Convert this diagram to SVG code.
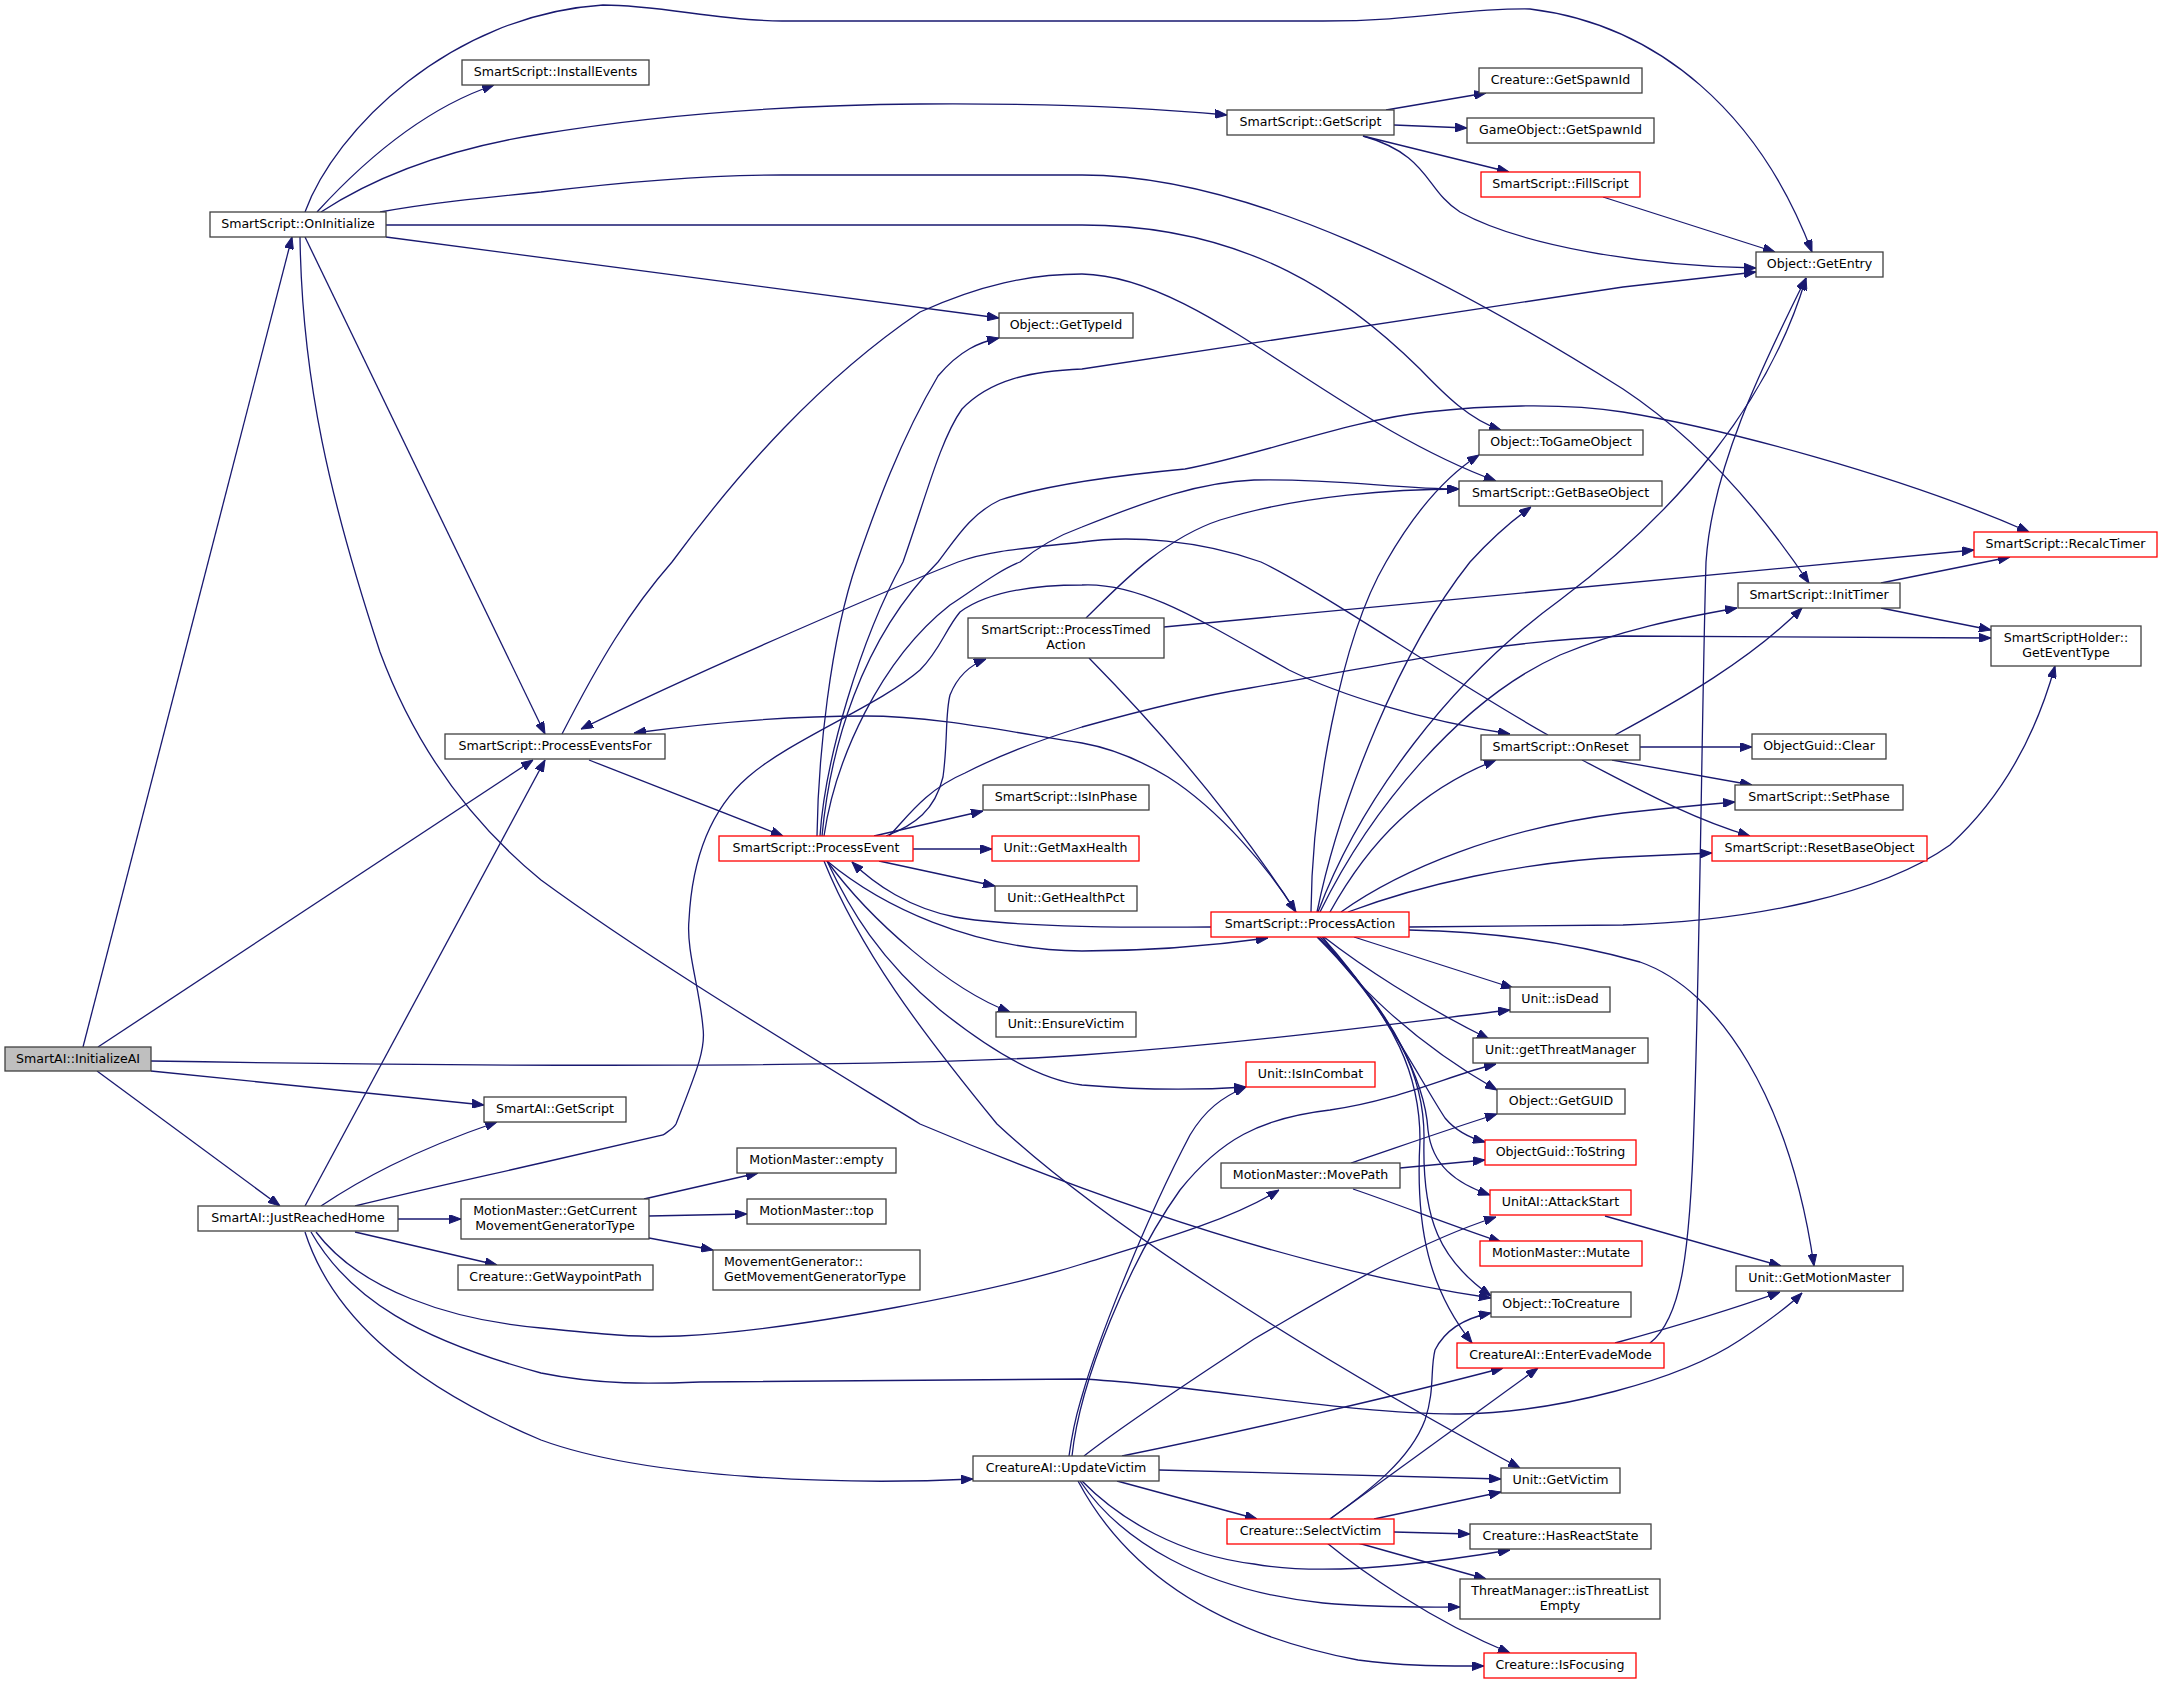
<svg xmlns="http://www.w3.org/2000/svg" width="2163" height="1685" viewBox="0 0 2163 1685">
<defs>
<marker id="a" viewBox="0 0 12 9" refX="12" refY="4.5" markerWidth="12" markerHeight="9" markerUnits="userSpaceOnUse" orient="auto"><path d="M0,0 L12,4.5 L0,9 z" fill="#191970" stroke="#191970" stroke-width="1"/></marker>
</defs>
<style>
.n rect{fill:#fff;stroke:#404040;stroke-width:1.3}
.r rect{fill:#fff;stroke:#ff0000;stroke-width:1.3}
.g rect{fill:#bfbfbf;stroke:#404040;stroke-width:1.3}
text{font-family:"DejaVu Sans","Liberation Sans",sans-serif;font-size:12.6px;fill:#000;text-anchor:middle}
text.l{text-anchor:start}
.e path{fill:none;stroke:#191970;stroke-width:1.3;marker-end:url(#a)}
</style>
<rect width="2163" height="1685" fill="#fff"/>
<g id="edges" class="e">
<path d="M83,1047 L292,237"/>
<path d="M98,1047 L533,760"/>
<path d="M151,1061 C500,1067 900,1068 1082,1055 C1250,1043 1400,1023 1510,1010"/>
<path d="M151,1071 L484,1105"/>
<path d="M97,1071 L280,1206"/>
<path d="M305,212 C335,130 450,15 603,5 C660,5 720,21 782,21 L1323,21 C1420,21 1460,8 1530,9 C1660,25 1760,115 1812,252"/>
<path d="M317,212 C360,165 420,110 494,85"/>
<path d="M321,212 C370,180 440,150 541,134 C650,116 780,105 920,104 C1050,103 1150,108 1227,115"/>
<path d="M380,212 C430,203 480,198 541,192 C640,180 720,175 782,175 L1082,175 C1250,175 1450,280 1623,389 C1700,440 1760,510 1809,583"/>
<path d="M386,225 L1082,225 C1250,225 1350,300 1420,369 C1445,395 1470,420 1501,430"/>
<path d="M386,237 L999,318"/>
<path d="M305,237 L545,734"/>
<path d="M300,237 C302,380 330,500 380,652 C420,760 480,830 541,880 C650,960 800,1050 920,1124 C1100,1200 1300,1270 1491,1298"/>
<path d="M1386,110 L1486,93"/>
<path d="M1394,125 L1467,128"/>
<path d="M1363,136 L1509,172"/>
<path d="M1363,136 C1430,155 1425,190 1460,212 C1520,245 1640,266 1756,268"/>
<path d="M1603,197 L1775,252"/>
<path d="M589,760 L783,836"/>
<path d="M562,734 C600,660 630,610 672,562 C740,470 820,380 920,312 C980,285 1030,274 1082,274 C1200,276 1330,420 1496,481"/>
<path d="M817,836 C818,760 830,640 857,562 C875,510 900,440 938,376 C960,350 980,342 999,338"/>
<path d="M820,836 C825,760 860,640 903,562 C925,500 940,440 962,409 C990,380 1030,371 1082,369 L1623,287 L1756,272"/>
<path d="M822,836 C830,750 860,640 938,562 C955,540 970,514 1000,500 C1040,487 1100,477 1185,469 C1260,455 1350,420 1427,412 C1480,406 1560,402 1623,412 C1720,428 1900,475 2029,532"/>
<path d="M824,836 C835,760 880,660 950,605 C980,585 1000,570 1020,562 C1040,545 1060,535 1082,527 C1150,500 1200,482 1254,480 C1330,478 1400,489 1459,489"/>
<path d="M886,836 C915,825 935,810 943,777 C948,740 945,715 950,695 C958,675 970,665 986,659"/>
<path d="M889,836 C905,820 925,790 965,773 C1000,755 1040,740 1082,727 C1150,708 1200,696 1250,688 C1400,662 1500,641 1623,636 L1991,638"/>
<path d="M874,836 L983,811"/>
<path d="M913,849 L992,849"/>
<path d="M879,861 L995,886"/>
<path d="M827,861 C880,905 970,950 1082,951 C1150,951 1210,946 1268,938"/>
<path d="M1211,927 C1100,928 1000,925 955,917 C910,908 875,885 852,862"/>
<path d="M827,861 C870,920 950,990 1010,1012"/>
<path d="M827,861 C850,910 880,960 940,1010 C990,1050 1040,1080 1082,1085 C1140,1090 1200,1090 1246,1087"/>
<path d="M824,861 C860,950 920,1030 997,1124 C1100,1220 1300,1350 1520,1468"/>
<path d="M1089,658 C1150,720 1230,810 1296,912"/>
<path d="M1086,618 C1115,590 1160,540 1220,520 C1300,495 1400,489 1459,489"/>
<path d="M1164,627 L1974,550"/>
<path d="M1296,912 C1270,870 1220,810 1168,777 C1140,760 1110,748 1082,743 C1000,730 930,716 865,716 C780,716 700,724 634,733"/>
<path d="M1311,912 C1312,800 1340,640 1386,562 C1410,520 1440,480 1479,455"/>
<path d="M1317,912 C1340,800 1400,650 1470,562 C1490,540 1510,522 1531,507"/>
<path d="M1318,912 C1360,800 1450,680 1560,600 C1680,510 1770,400 1806,278"/>
<path d="M1320,912 C1370,810 1460,700 1560,655 C1620,630 1680,618 1737,608"/>
<path d="M1330,912 C1370,840 1420,790 1496,760"/>
<path d="M1341,912 C1400,870 1500,828 1623,813 C1660,809 1700,805 1735,802"/>
<path d="M1348,912 C1420,885 1520,862 1623,857 L1712,853"/>
<path d="M1409,927 L1623,925 C1750,921 1880,895 1950,845 C2010,790 2040,720 2055,666"/>
<path d="M1409,930 C1500,932 1580,945 1640,962 C1720,990 1790,1100 1814,1266"/>
<path d="M1354,937 L1513,988"/>
<path d="M1324,937 C1360,965 1420,1005 1489,1039"/>
<path d="M1323,937 C1350,980 1410,1040 1497,1090"/>
<path d="M1322,937 C1380,1000 1420,1080 1445,1118 C1455,1130 1470,1138 1485,1142"/>
<path d="M1320,937 C1390,1010 1425,1080 1428,1130 C1432,1165 1455,1183 1490,1195"/>
<path d="M1318,937 C1400,1020 1425,1080 1424,1140 C1422,1220 1440,1260 1491,1296"/>
<path d="M1317,937 C1400,1020 1420,1080 1420,1140 C1415,1230 1430,1290 1472,1343"/>
<path d="M1548,735 C1450,680 1320,590 1261,562 C1200,540 1130,535 1082,542 C1030,548 990,550 958,562 C900,585 700,670 581,729"/>
<path d="M1615,735 C1680,700 1750,660 1802,608"/>
<path d="M1640,747 L1752,747"/>
<path d="M1612,760 L1752,785"/>
<path d="M1582,760 C1640,790 1690,818 1750,836"/>
<path d="M1881,583 L2010,557"/>
<path d="M1881,608 L1991,630"/>
<path d="M321,1206 C360,1180 410,1152 497,1122"/>
<path d="M305,1206 L545,760"/>
<path d="M355,1206 C420,1190 480,1177 541,1163 L663,1135 C670,1130 674,1128 676,1124 C695,1075 706,1050 703,1028 C700,990 686,950 689,920 C692,860 710,810 748,777 C790,740 880,705 920,670 C940,650 945,630 960,612 C990,590 1040,585 1082,585 C1140,582 1200,620 1289,670 C1340,695 1420,720 1510,734"/>
<path d="M398,1219 L461,1219"/>
<path d="M355,1232 L497,1265"/>
<path d="M316,1232 C360,1290 450,1320 541,1328 C600,1334 640,1338 680,1336 C800,1330 1000,1290 1082,1264 C1160,1240 1230,1220 1279,1190"/>
<path d="M311,1232 C350,1300 420,1340 541,1373 C600,1385 650,1384 700,1382 L1082,1379 C1200,1385 1350,1415 1460,1414 C1560,1412 1680,1380 1740,1340 C1770,1320 1790,1305 1802,1293"/>
<path d="M305,1232 C330,1310 400,1380 541,1440 C650,1480 850,1485 973,1479"/>
<path d="M644,1199 L758,1173"/>
<path d="M649,1216 L747,1214"/>
<path d="M649,1238 L713,1250"/>
<path d="M1069,1456 C1074,1420 1078,1410 1082,1396 C1095,1350 1140,1230 1190,1135 C1205,1110 1222,1097 1246,1087"/>
<path d="M1072,1456 C1080,1380 1130,1260 1180,1190 C1220,1140 1260,1118 1330,1110 C1400,1100 1450,1075 1496,1064"/>
<path d="M1084,1456 C1130,1420 1200,1375 1254,1339 C1330,1295 1410,1245 1496,1217"/>
<path d="M1122,1456 C1250,1430 1400,1395 1503,1368"/>
<path d="M1159,1470 L1501,1479"/>
<path d="M1117,1481 L1257,1519"/>
<path d="M1082,1481 C1120,1520 1180,1555 1254,1564 C1300,1572 1350,1570 1400,1565 C1440,1561 1480,1555 1510,1550"/>
<path d="M1080,1481 C1120,1540 1200,1590 1323,1603 C1380,1608 1420,1607 1460,1607"/>
<path d="M1078,1481 C1120,1560 1200,1630 1358,1660 C1400,1666 1440,1666 1484,1666"/>
<path d="M1330,1519 C1370,1490 1410,1460 1425,1420 C1435,1390 1430,1370 1435,1350 C1445,1330 1465,1318 1491,1313"/>
<path d="M1330,1519 L1538,1368"/>
<path d="M1374,1519 L1501,1492"/>
<path d="M1394,1532 L1470,1534"/>
<path d="M1358,1543 L1486,1579"/>
<path d="M1327,1543 C1360,1570 1430,1620 1510,1653"/>
<path d="M1351,1163 C1390,1150 1440,1132 1497,1114"/>
<path d="M1400,1168 L1485,1160"/>
<path d="M1353,1189 C1400,1205 1450,1225 1501,1242"/>
<path d="M1605,1216 L1781,1266"/>
<path d="M1615,1343 C1680,1325 1730,1310 1780,1292"/>
<path d="M1650,1343 C1680,1320 1690,1260 1694,1124 C1700,950 1702,700 1706,562 C1712,470 1760,370 1806,278"/>
</g>
<g id="n1" class="g"><rect x="5" y="1047" width="146" height="24"/><text x="78" y="1063">SmartAI::InitializeAI</text></g>
<g id="n2" class="n"><rect x="210" y="212" width="176" height="25"/><text x="298" y="228">SmartScript::OnInitialize</text></g>
<g id="n3" class="n"><rect x="462" y="60" width="187" height="25"/><text x="555.5" y="76">SmartScript::InstallEvents</text></g>
<g id="n4" class="n"><rect x="1227" y="110" width="167" height="25"/><text x="1310.5" y="126">SmartScript::GetScript</text></g>
<g id="n5" class="n"><rect x="1479" y="68" width="163" height="25"/><text x="1560.5" y="84">Creature::GetSpawnId</text></g>
<g id="n6" class="n"><rect x="1467" y="118" width="187" height="25"/><text x="1560.5" y="134">GameObject::GetSpawnId</text></g>
<g id="n7" class="r"><rect x="1481" y="172" width="159" height="25"/><text x="1560.5" y="188">SmartScript::FillScript</text></g>
<g id="n8" class="n"><rect x="1756" y="252" width="127" height="25"/><text x="1819.5" y="268">Object::GetEntry</text></g>
<g id="n9" class="n"><rect x="999" y="313" width="134" height="25"/><text x="1066" y="329">Object::GetTypeId</text></g>
<g id="n10" class="n"><rect x="1479" y="430" width="164" height="25"/><text x="1561" y="446">Object::ToGameObject</text></g>
<g id="n11" class="n"><rect x="1459" y="481" width="203" height="25"/><text x="1560.5" y="497">SmartScript::GetBaseObject</text></g>
<g id="n12" class="r"><rect x="1974" y="532" width="183" height="25"/><text x="2065.5" y="548">SmartScript::RecalcTimer</text></g>
<g id="n13" class="n"><rect x="1738" y="583" width="162" height="25"/><text x="1819" y="599">SmartScript::InitTimer</text></g>
<g id="n14" class="n"><rect x="1991" y="626" width="150" height="40"/><text x="2066" y="641.5">SmartScriptHolder::</text><text x="2066" y="656.5">GetEventType</text></g>
<g id="n15" class="n"><rect x="968" y="618" width="196" height="40"/><text x="1066" y="633.5">SmartScript::ProcessTimed</text><text x="1066" y="648.5">Action</text></g>
<g id="n16" class="n"><rect x="445" y="734" width="220" height="25"/><text x="555" y="750">SmartScript::ProcessEventsFor</text></g>
<g id="n17" class="n"><rect x="1481" y="735" width="159" height="25"/><text x="1560.5" y="751">SmartScript::OnReset</text></g>
<g id="n18" class="n"><rect x="1752" y="734" width="134" height="25"/><text x="1819" y="750">ObjectGuid::Clear</text></g>
<g id="n19" class="n"><rect x="983" y="785" width="166" height="25"/><text x="1066" y="801">SmartScript::IsInPhase</text></g>
<g id="n20" class="n"><rect x="1735" y="785" width="168" height="25"/><text x="1819" y="801">SmartScript::SetPhase</text></g>
<g id="n21" class="r"><rect x="719" y="836" width="194" height="25"/><text x="816" y="852">SmartScript::ProcessEvent</text></g>
<g id="n22" class="r"><rect x="992" y="836" width="147" height="25"/><text x="1065.5" y="852">Unit::GetMaxHealth</text></g>
<g id="n23" class="r"><rect x="1712" y="836" width="215" height="25"/><text x="1819.5" y="852">SmartScript::ResetBaseObject</text></g>
<g id="n24" class="n"><rect x="995" y="886" width="142" height="25"/><text x="1066" y="902">Unit::GetHealthPct</text></g>
<g id="n25" class="r"><rect x="1211" y="912" width="198" height="25"/><text x="1310" y="928">SmartScript::ProcessAction</text></g>
<g id="n26" class="n"><rect x="1510" y="987" width="100" height="25"/><text x="1560" y="1003">Unit::isDead</text></g>
<g id="n27" class="n"><rect x="996" y="1012" width="140" height="25"/><text x="1066" y="1028">Unit::EnsureVictim</text></g>
<g id="n28" class="n"><rect x="1473" y="1038" width="175" height="25"/><text x="1560.5" y="1054">Unit::getThreatManager</text></g>
<g id="n29" class="r"><rect x="1246" y="1062" width="129" height="25"/><text x="1310.5" y="1078">Unit::IsInCombat</text></g>
<g id="n30" class="n"><rect x="1497" y="1089" width="128" height="25"/><text x="1561" y="1105">Object::GetGUID</text></g>
<g id="n31" class="n"><rect x="484" y="1097" width="142" height="25"/><text x="555" y="1113">SmartAI::GetScript</text></g>
<g id="n32" class="r"><rect x="1485" y="1140" width="151" height="25"/><text x="1560.5" y="1156">ObjectGuid::ToString</text></g>
<g id="n33" class="n"><rect x="737" y="1148" width="159" height="25"/><text x="816.5" y="1164">MotionMaster::empty</text></g>
<g id="n34" class="n"><rect x="1221" y="1163" width="179" height="25"/><text x="1310.5" y="1179">MotionMaster::MovePath</text></g>
<g id="n35" class="r"><rect x="1490" y="1190" width="141" height="25"/><text x="1560.5" y="1206">UnitAI::AttackStart</text></g>
<g id="n36" class="n"><rect x="461" y="1199" width="188" height="40"/><text x="555" y="1214.5">MotionMaster::GetCurrent</text><text x="555" y="1229.5">MovementGeneratorType</text></g>
<g id="n37" class="n"><rect x="747" y="1199" width="139" height="25"/><text x="816.5" y="1215">MotionMaster::top</text></g>
<g id="n38" class="n"><rect x="198" y="1206" width="200" height="25"/><text x="298" y="1222">SmartAI::JustReachedHome</text></g>
<g id="n39" class="r"><rect x="1480" y="1241" width="162" height="25"/><text x="1561" y="1257">MotionMaster::Mutate</text></g>
<g id="n40" class="n"><rect x="713" y="1250" width="207" height="40"/><text class="l" x="724" y="1265.5">MovementGenerator::</text><text class="l" x="724" y="1280.5">GetMovementGeneratorType</text></g>
<g id="n41" class="n"><rect x="1736" y="1266" width="167" height="25"/><text x="1819.5" y="1282">Unit::GetMotionMaster</text></g>
<g id="n42" class="n"><rect x="458" y="1265" width="195" height="25"/><text x="555.5" y="1281">Creature::GetWaypointPath</text></g>
<g id="n43" class="n"><rect x="1491" y="1292" width="140" height="25"/><text x="1561" y="1308">Object::ToCreature</text></g>
<g id="n44" class="r"><rect x="1457" y="1343" width="207" height="25"/><text x="1560.5" y="1359">CreatureAI::EnterEvadeMode</text></g>
<g id="n45" class="n"><rect x="973" y="1456" width="186" height="25"/><text x="1066" y="1472">CreatureAI::UpdateVictim</text></g>
<g id="n46" class="n"><rect x="1501" y="1468" width="119" height="25"/><text x="1560.5" y="1484">Unit::GetVictim</text></g>
<g id="n47" class="r"><rect x="1227" y="1519" width="167" height="25"/><text x="1310.5" y="1535">Creature::SelectVictim</text></g>
<g id="n48" class="n"><rect x="1470" y="1524" width="181" height="25"/><text x="1560.5" y="1540">Creature::HasReactState</text></g>
<g id="n49" class="n"><rect x="1460" y="1579" width="200" height="40"/><text x="1560" y="1594.5">ThreatManager::isThreatList</text><text x="1560" y="1609.5">Empty</text></g>
<g id="n50" class="r"><rect x="1484" y="1653" width="152" height="25"/><text x="1560" y="1669">Creature::IsFocusing</text></g>
</svg>
